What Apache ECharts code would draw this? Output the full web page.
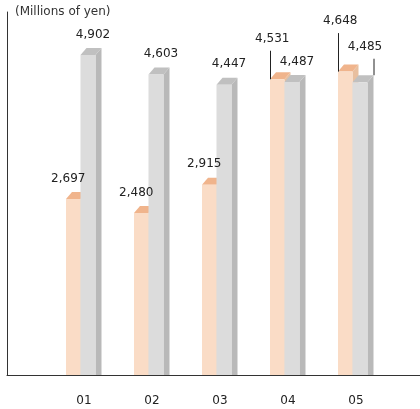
<!DOCTYPE html>
<html>
<head>
<meta charset="utf-8">
<script src="https://cdn.jsdelivr.net/npm/echarts@6/dist/echarts.min.js"></script>
<style>
  html, body { margin: 0; padding: 0; background: #fff; }
  #main { width: 420px; height: 409px; }
</style>
</head>
<body>
<div id="main"></div>
<script>
var categories = ['01', '02', '03', '04', '05'];
var peachValues = [2697, 2480, 2915, 4531, 4648];
var greyValues = [4902, 4603, 4447, 4487, 4485];
var unitLabel = '(Millions of yen)';

// labels that sit higher with a leader line (extra lift in px)
var peachLift = [0, 0, 0, 20, 30];
var greyLift = [0, 0, 0, 0, 15];

var DX = 6, DY = 7;
var fontFam = '"DejaVu Sans", sans-serif';

function fmt(v) {
  return v.toString().replace(/\B(?=(\d{3})+(?!\d))/g, ',');
}

function bar3d(x0, w, yt, yb, front, topC, sideC) {
  var x1 = x0 + w;
  return [
    { type: 'polygon', shape: { points: [[x1, yb], [x1, yt], [x1 + DX, yt - DY], [x1 + DX, yb]] }, style: { fill: sideC } },
    { type: 'polygon', shape: { points: [[x0, yt], [x0 + DX, yt - DY], [x1 + DX, yt - DY], [x1, yt]] }, style: { fill: topC } },
    { type: 'rect', shape: { x: x0, y: yt, width: w, height: yb - yt }, style: { fill: front } }
  ];
}

function label(v, x, y, lineX, lineEnd, lift) {
  var out = [];
  if (lift > 0) {
    out.push({ type: 'line', shape: { x1: lineX + 0.5, y1: y + 12, x2: lineX + 0.5, y2: lineEnd }, style: { stroke: '#222', lineWidth: 1 } });
  }
  out.push({ type: 'text', style: { text: fmt(v), x: x, y: y, align: 'center', verticalAlign: 'middle', font: '12px ' + fontFam, fill: '#222' } });
  return out;
}

function renderGroup(params, api) {
  var i = api.value(0), pv = api.value(1), gv = api.value(2);
  var base = api.coord([i, 0]);
  var pTop = api.coord([i, pv]);
  var gTop = api.coord([i, gv]);
  var cx = base[0], yb = base[1];
  var px0 = cx - 14.5, pw = 14.5;
  var gx0 = cx, gw = 15;
  var children = [];
  children = children.concat(bar3d(px0, pw, pTop[1], yb, '#fadcc6', '#f0b48c', '#e8bf9f'));
  children = children.concat(bar3d(gx0, gw, gTop[1], yb, '#dcdcdc', '#c0c0c0', '#b9b9b9'));
  var pl = peachLift[params.dataIndex], gl = greyLift[params.dataIndex];
  children = children.concat(label(pv, px0 + pw / 2 - 5, pTop[1] - 20.5 - pl, px0, pTop[1], pl));
  children = children.concat(label(gv, gx0 + gw / 2 + 5, gTop[1] - 20.5 - gl, gx0 + gw + DX, gTop[1] - DY, gl));
  return { type: 'group', children: children };
}

var chart = echarts.init(document.getElementById('main'));
chart.setOption({
  animation: false,
  title: {
    text: unitLabel, left: 10, top: 1,
    textStyle: { fontSize: 12, fontWeight: 'normal', color: '#333', fontFamily: fontFam }
  },
  grid: [
    { left: 7, right: 0, top: 12, bottom: 34 },
    { left: 46.5, width: 340, top: 0, bottom: 34 }
  ],
  xAxis: [
    { gridIndex: 0, type: 'value', min: 0, max: 1, axisLine: { show: true, lineStyle: { color: '#333' } },
      axisTick: { show: false }, axisLabel: { show: false }, splitLine: { show: false } },
    { gridIndex: 1, type: 'category', data: categories, axisLine: { show: false }, axisTick: { show: false },
      axisLabel: { margin: 20, fontSize: 12, color: '#222', fontFamily: fontFam, padding: [0, 0, 0, 7] } }
  ],
  yAxis: [
    { gridIndex: 0, type: 'value', min: 0, max: 1, axisLine: { show: true, lineStyle: { color: '#333' } },
      axisTick: { show: false }, axisLabel: { show: false }, splitLine: { show: false } },
    { gridIndex: 1, type: 'value', min: 0, max: 5745, show: false, splitLine: { show: false } }
  ],
  series: [
    { type: 'custom', xAxisIndex: 1, yAxisIndex: 1, renderItem: renderGroup,
      data: categories.map(function (c, i) { return [i, peachValues[i], greyValues[i]]; }),
      encode: { x: 0, y: [1, 2] } }
  ]
});
</script>
</body>
</html>
